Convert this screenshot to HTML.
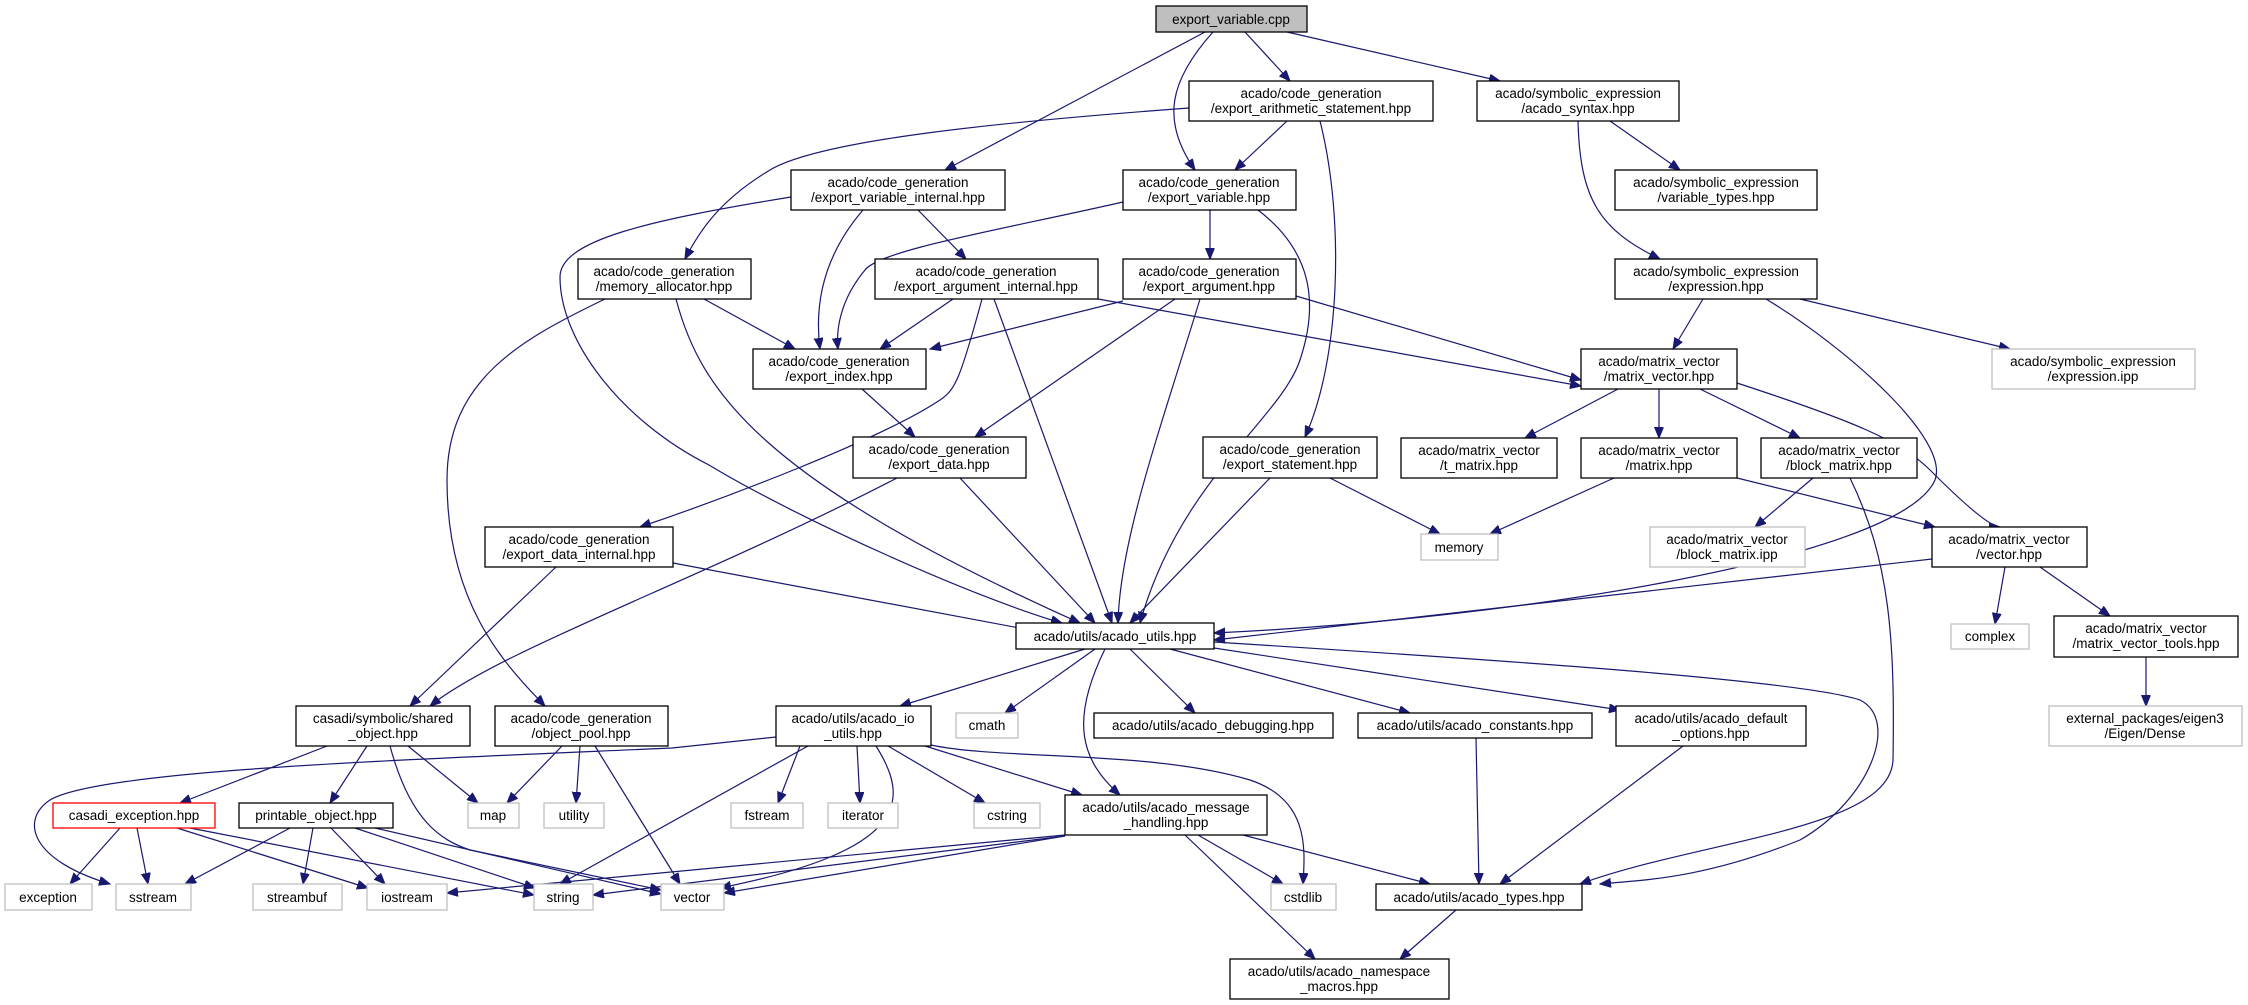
<!DOCTYPE html>
<html><head><meta charset="utf-8"><style>
html,body{margin:0;padding:0;background:#fff;}
svg{display:block;}
text{font-family:"Liberation Sans",sans-serif;font-size:13.5px;fill:#000;text-anchor:middle;}
.n{fill:#fff;stroke:#000;stroke-width:1.3;}
.g{fill:#fff;stroke:#bfbfbf;stroke-width:1.3;}
.r{fill:#fff;stroke:#ff0000;stroke-width:1.3;}
.e{fill:none;stroke:#191970;stroke-width:1.2;marker-end:url(#a);}
</style></head><body>
<svg width="2248" height="1005" viewBox="0 0 2248 1005" xmlns="http://www.w3.org/2000/svg">
<defs><marker id="a" markerUnits="userSpaceOnUse" markerWidth="12" markerHeight="10" refX="11" refY="4.5" orient="auto"><path d="M0,0 L11,4.5 L0,9 z" fill="#191970" stroke="#191970"/></marker></defs>
<g>
<path class="e" d="M1205,32 L945,170"/>
<path class="e" d="M1213,32 C1170,80 1160,120 1195,170"/>
<path class="e" d="M1245,32 L1290,81"/>
<path class="e" d="M1287,32 L1500,81"/>
<path class="e" d="M1189,108 C1000,122 820,140 770,170 C720,200 700,230 685,259"/>
<path class="e" d="M1287,121 L1235,170"/>
<path class="e" d="M1320,121 C1345,220 1340,360 1305,437"/>
<path class="e" d="M1610,121 L1680,170"/>
<path class="e" d="M1578,121 C1580,200 1600,230 1660,259"/>
<path class="e" d="M791,197 C650,220 560,240 560,277 C560,340 620,420 709,465 C800,520 980,600 1062,623"/>
<path class="e" d="M863,210 C820,260 815,310 820,349"/>
<path class="e" d="M918,210 L966,259"/>
<path class="e" d="M1123,202 C1000,230 880,250 865,270 C840,300 836,330 838,349"/>
<path class="e" d="M1210,210 L1210,259"/>
<path class="e" d="M1258,210 C1310,250 1320,300 1300,360 C1280,420 1180,480 1140,623"/>
<path class="e" d="M704,299 L795,349"/>
<path class="e" d="M676,299 C700,390 760,480 1080,623"/>
<path class="e" d="M605,299 C520,340 447,380 447,480 C447,600 500,660 545,706"/>
<path class="e" d="M953,299 L880,349"/>
<path class="e" d="M994,299 L1112,623"/>
<path class="e" d="M982,299 C960,380 955,390 940,400 C880,440 720,500 640,527"/>
<path class="e" d="M1098,299 L1581,386"/>
<path class="e" d="M1123,301 L930,349"/>
<path class="e" d="M1175,299 L975,437"/>
<path class="e" d="M1200,299 C1160,430 1120,540 1118,623"/>
<path class="e" d="M1296,296 L1581,380"/>
<path class="e" d="M1703,299 L1673,349"/>
<path class="e" d="M1766,299 C1850,350 1950,440 1935,480 C1900,560 1500,620 1214,633"/>
<path class="e" d="M1800,299 L2010,349"/>
<path class="e" d="M862,389 L915,437"/>
<path class="e" d="M960,478 L1095,623"/>
<path class="e" d="M897,478 C700,580 500,650 430,706"/>
<path class="e" d="M1270,478 L1130,623"/>
<path class="e" d="M1330,478 L1440,534"/>
<path class="e" d="M1618,389 L1525,438"/>
<path class="e" d="M1659,389 L1659,438"/>
<path class="e" d="M1700,389 L1800,438"/>
<path class="e" d="M1737,383 C1850,420 1900,440 1930,470 C1960,500 1990,527 2000,527"/>
<path class="e" d="M1614,478 L1490,534"/>
<path class="e" d="M1737,478 L1935,527"/>
<path class="e" d="M1813,478 L1755,527"/>
<path class="e" d="M1850,478 C1890,560 1895,640 1893,760 C1890,830 1700,840 1580,884"/>
<path class="e" d="M673,563 L1030,630"/>
<path class="e" d="M556,567 L410,706"/>
<path class="e" d="M1932,559 L1214,640"/>
<path class="e" d="M2005,567 L1995,624"/>
<path class="e" d="M2040,567 L2110,616"/>
<path class="e" d="M2146,657 L2146,706"/>
<path class="e" d="M1085,649 L900,706"/>
<path class="e" d="M1095,649 L1005,713"/>
<path class="e" d="M1105,649 C1070,720 1080,760 1120,795"/>
<path class="e" d="M1130,649 L1195,713"/>
<path class="e" d="M1170,649 L1410,713"/>
<path class="e" d="M1214,648 L1620,710"/>
<path class="e" d="M1214,642 C1500,660 1800,680 1860,700 C1900,720 1870,800 1800,840 C1700,880 1640,880 1600,884"/>
<path class="e" d="M776,737 L672,748 C400,760 100,770 50,800 C20,820 30,860 110,884"/>
<path class="e" d="M800,746 L778,803"/>
<path class="e" d="M857,746 L860,803"/>
<path class="e" d="M888,746 L985,803"/>
<path class="e" d="M925,746 L1082,795"/>
<path class="e" d="M931,745 C1000,760 1150,750 1250,780 C1310,800 1305,850 1303,884"/>
<path class="e" d="M808,746 L560,884"/>
<path class="e" d="M876,746 C910,800 910,850 720,888"/>
<path class="e" d="M327,746 L180,803"/>
<path class="e" d="M367,746 L330,803"/>
<path class="e" d="M408,746 L478,803"/>
<path class="e" d="M390,746 C410,820 440,840 470,850 L661,890"/>
<path class="e" d="M562,746 L507,803"/>
<path class="e" d="M580,746 L576,803"/>
<path class="e" d="M595,746 L680,884"/>
<path class="e" d="M120,828 L70,884"/>
<path class="e" d="M137,828 L148,884"/>
<path class="e" d="M177,828 L368,888"/>
<path class="e" d="M190,828 L534,895"/>
<path class="e" d="M290,828 L185,884"/>
<path class="e" d="M313,828 L303,884"/>
<path class="e" d="M331,828 L385,884"/>
<path class="e" d="M355,828 L535,888"/>
<path class="e" d="M375,828 L661,894"/>
<path class="e" d="M1065,835 L447,893"/>
<path class="e" d="M1065,836 L593,895"/>
<path class="e" d="M1065,836 L724,893"/>
<path class="e" d="M1198,835 L1283,884"/>
<path class="e" d="M1243,835 L1430,884"/>
<path class="e" d="M1185,835 L1315,959"/>
<path class="e" d="M1476,738 L1479,884"/>
<path class="e" d="M1683,746 L1500,884"/>
<path class="e" d="M1456,910 L1400,959"/>
</g>
<g>
<rect x="1156" y="6" width="151" height="26" fill="#bfbfbf" stroke="#000" stroke-width="1.3"/><text x="1231" y="24">export_variable.cpp</text>
<rect class="n" x="1189" y="81" width="244" height="40"/><text x="1311" y="98">acado/code_generation</text><text x="1311" y="113">/export_arithmetic_statement.hpp</text>
<rect class="n" x="1477" y="81" width="202" height="40"/><text x="1578" y="98">acado/symbolic_expression</text><text x="1578" y="113">/acado_syntax.hpp</text>
<rect class="n" x="791" y="170" width="214" height="40"/><text x="898" y="187">acado/code_generation</text><text x="898" y="202">/export_variable_internal.hpp</text>
<rect class="n" x="1123" y="170" width="173" height="40"/><text x="1209" y="187">acado/code_generation</text><text x="1209" y="202">/export_variable.hpp</text>
<rect class="n" x="1615" y="170" width="202" height="40"/><text x="1716" y="187">acado/symbolic_expression</text><text x="1716" y="202">/variable_types.hpp</text>
<rect class="n" x="578" y="259" width="173" height="40"/><text x="664" y="276">acado/code_generation</text><text x="664" y="291">/memory_allocator.hpp</text>
<rect class="n" x="875" y="259" width="223" height="40"/><text x="986" y="276">acado/code_generation</text><text x="986" y="291">/export_argument_internal.hpp</text>
<rect class="n" x="1123" y="259" width="173" height="40"/><text x="1209" y="276">acado/code_generation</text><text x="1209" y="291">/export_argument.hpp</text>
<rect class="n" x="1615" y="259" width="202" height="40"/><text x="1716" y="276">acado/symbolic_expression</text><text x="1716" y="291">/expression.hpp</text>
<rect class="n" x="753" y="349" width="173" height="40"/><text x="839" y="366">acado/code_generation</text><text x="839" y="381">/export_index.hpp</text>
<rect class="n" x="1581" y="349" width="156" height="40"/><text x="1659" y="366">acado/matrix_vector</text><text x="1659" y="381">/matrix_vector.hpp</text>
<rect class="g" x="1992" y="349" width="203" height="40"/><text x="2093" y="366">acado/symbolic_expression</text><text x="2093" y="381">/expression.ipp</text>
<rect class="n" x="853" y="437" width="173" height="41"/><text x="939" y="454">acado/code_generation</text><text x="939" y="469">/export_data.hpp</text>
<rect class="n" x="1203" y="437" width="174" height="41"/><text x="1290" y="454">acado/code_generation</text><text x="1290" y="469">/export_statement.hpp</text>
<rect class="n" x="1401" y="438" width="156" height="40"/><text x="1479" y="455">acado/matrix_vector</text><text x="1479" y="470">/t_matrix.hpp</text>
<rect class="n" x="1581" y="438" width="156" height="40"/><text x="1659" y="455">acado/matrix_vector</text><text x="1659" y="470">/matrix.hpp</text>
<rect class="n" x="1761" y="438" width="156" height="40"/><text x="1839" y="455">acado/matrix_vector</text><text x="1839" y="470">/block_matrix.hpp</text>
<rect class="n" x="485" y="527" width="188" height="40"/><text x="579" y="544">acado/code_generation</text><text x="579" y="559">/export_data_internal.hpp</text>
<rect class="g" x="1421" y="534" width="77" height="26"/><text x="1459" y="552">memory</text>
<rect class="g" x="1650" y="527" width="155" height="40"/><text x="1727" y="544">acado/matrix_vector</text><text x="1727" y="559">/block_matrix.ipp</text>
<rect class="n" x="1932" y="527" width="155" height="40"/><text x="2009" y="544">acado/matrix_vector</text><text x="2009" y="559">/vector.hpp</text>
<rect class="n" x="1016" y="623" width="198" height="26"/><text x="1115" y="641">acado/utils/acado_utils.hpp</text>
<rect class="g" x="1951" y="624" width="78" height="25"/><text x="1990" y="641">complex</text>
<rect class="n" x="2054" y="616" width="184" height="41"/><text x="2146" y="633">acado/matrix_vector</text><text x="2146" y="648">/matrix_vector_tools.hpp</text>
<rect class="g" x="2049" y="706" width="193" height="40"/><text x="2145" y="723">external_packages/eigen3</text><text x="2145" y="738">/Eigen/Dense</text>
<rect class="n" x="296" y="706" width="174" height="40"/><text x="383" y="723">casadi/symbolic/shared</text><text x="383" y="738">_object.hpp</text>
<rect class="n" x="495" y="706" width="173" height="40"/><text x="581" y="723">acado/code_generation</text><text x="581" y="738">/object_pool.hpp</text>
<rect class="n" x="776" y="706" width="155" height="40"/><text x="853" y="723">acado/utils/acado_io</text><text x="853" y="738">_utils.hpp</text>
<rect class="g" x="956" y="713" width="62" height="25"/><text x="987" y="730">cmath</text>
<rect class="n" x="1094" y="713" width="239" height="25"/><text x="1213" y="730">acado/utils/acado_debugging.hpp</text>
<rect class="n" x="1358" y="713" width="234" height="25"/><text x="1475" y="730">acado/utils/acado_constants.hpp</text>
<rect class="n" x="1616" y="706" width="190" height="40"/><text x="1711" y="723">acado/utils/acado_default</text><text x="1711" y="738">_options.hpp</text>
<rect class="r" x="53" y="803" width="162" height="25"/><text x="134" y="820">casadi_exception.hpp</text>
<rect class="n" x="239" y="803" width="154" height="25"/><text x="316" y="820">printable_object.hpp</text>
<rect class="g" x="468" y="803" width="51" height="25"/><text x="493" y="820">map</text>
<rect class="g" x="544" y="803" width="60" height="25"/><text x="574" y="820">utility</text>
<rect class="g" x="731" y="803" width="72" height="25"/><text x="767" y="820">fstream</text>
<rect class="g" x="828" y="803" width="70" height="25"/><text x="863" y="820">iterator</text>
<rect class="g" x="974" y="803" width="66" height="25"/><text x="1007" y="820">cstring</text>
<rect class="n" x="1065" y="795" width="202" height="40"/><text x="1166" y="812">acado/utils/acado_message</text><text x="1166" y="827">_handling.hpp</text>
<rect class="g" x="5" y="884" width="87" height="26"/><text x="48" y="902">exception</text>
<rect class="g" x="116" y="884" width="75" height="26"/><text x="153" y="902">sstream</text>
<rect class="g" x="253" y="884" width="89" height="26"/><text x="297" y="902">streambuf</text>
<rect class="g" x="367" y="884" width="80" height="26"/><text x="407" y="902">iostream</text>
<rect class="g" x="534" y="884" width="59" height="26"/><text x="563" y="902">string</text>
<rect class="g" x="661" y="884" width="63" height="26"/><text x="692" y="902">vector</text>
<rect class="g" x="1271" y="884" width="65" height="26"/><text x="1303" y="902">cstdlib</text>
<rect class="n" x="1376" y="884" width="206" height="26"/><text x="1479" y="902">acado/utils/acado_types.hpp</text>
<rect class="n" x="1230" y="959" width="219" height="40"/><text x="1339" y="976">acado/utils/acado_namespace</text><text x="1339" y="991">_macros.hpp</text>
</g>
</svg>
</body></html>
